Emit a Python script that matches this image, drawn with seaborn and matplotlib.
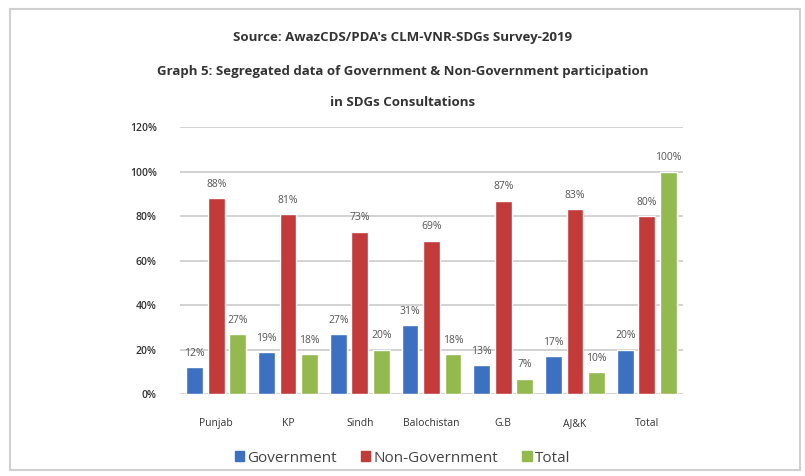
import numpy as np
import pandas as pd
import matplotlib
matplotlib.use("Agg")
import matplotlib.pyplot as plt
import seaborn as sns
from matplotlib.patches import Rectangle

# data (percent)
regions = ["Punjab", "KP", "Sindh", "Balochistan", "G.B", "AJ&K", "Total"]
government = [12, 19, 27, 31, 13, 17, 20]
non_government = [88, 81, 73, 69, 87, 83, 80]
total = [27, 18, 20, 18, 7, 10, 100]
series_names = ["Government", "Non-Government", "Total"]
colors = ["#3e70c2", "#c23a3a", "#93b94f"]

df = pd.DataFrame({
    "region": regions * 3,
    "series": np.repeat(series_names, len(regions)),
    "value": government + non_government + total,
})

sns.set_theme(style="white")
plt.rcParams["font.family"] = ["Open Sans", "DejaVu Sans"]

fig = plt.figure(figsize=(8.05, 4.76), dpi=100)
ax = fig.add_axes([0.224, 0.172, 0.624, 0.561])

sns.barplot(data=df, x="region", y="value", hue="series", order=regions,
            hue_order=series_names, palette=colors, width=0.9, gap=0.22,
            saturation=1, ax=ax, legend=False)

for cont in ax.containers:
    ax.bar_label(cont, labels=[f"{v:.0f}%" for v in cont.datavalues],
                 padding=6, fontsize=7.5, color="#555555")

ax.set_ylim(0, 120)
ax.set_yticks(range(0, 121, 20))
ax.set_yticklabels([f"{t}%" for t in range(0, 121, 20)], fontsize=7.5,
                   color="#333333", fontweight="semibold")
ax.tick_params(axis="x", labelsize=7.5, colors="#333333", pad=11)
ax.tick_params(axis="y", pad=11)
ax.set_xlabel("")
ax.set_ylabel("")
ax.yaxis.grid(True, color="#cfcfcf", linewidth=1.3)
ax.set_axisbelow(True)
for s in ax.spines.values():
    s.set_visible(False)
ax.set_xlim(-0.5, 6.5)

# titles
title_kw = dict(ha="center", va="center", fontsize=9.5, fontweight="bold", color="#333333")
fig.text(0.5, 1 - 38 / 476, "Source: AwazCDS/PDA's CLM-VNR-SDGs Survey-2019", **title_kw)
fig.text(0.5, 1 - 72 / 476,
         "Graph 5: Segregated data of Government & Non-Government participation", **title_kw)
fig.text(0.5, 1 - 103 / 476, "in SDGs Consultations", **title_kw)

# legend
handles = [Rectangle((0, 0), 1, 1, color=c) for c in colors]
fig.legend(handles, series_names, loc="center", bbox_to_anchor=(0.5, 1 - 458 / 476),
           ncol=3, frameon=False, fontsize=11, handlelength=0.6, handleheight=0.6,
           handletextpad=0.2, columnspacing=1.6, labelcolor="#444444")

# light frame around the chart
fig.patches.append(Rectangle((10 / 805, 6 / 476), 790 / 805, 461 / 476,
                             transform=fig.transFigure, fill=False,
                             edgecolor="#d0d0d0", linewidth=1.5))

fig.savefig("out.png", dpi=100)
